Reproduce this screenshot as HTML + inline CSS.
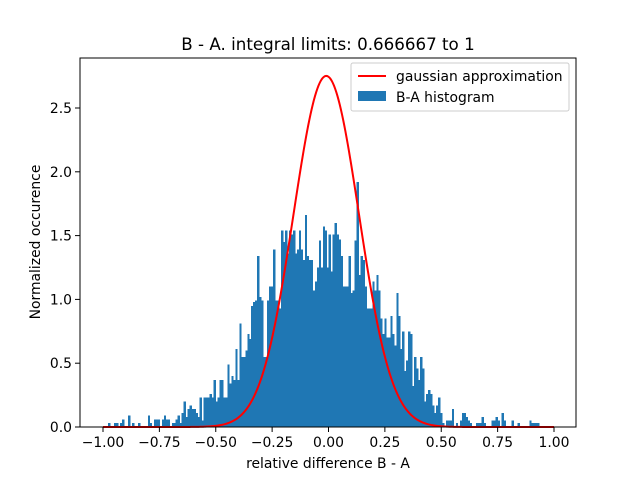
<!DOCTYPE html>
<html><head><meta charset="utf-8"><style>
body{margin:0;background:#fff}
svg text{font-family:"DejaVu Sans","Liberation Sans",sans-serif;fill:#000}
</style></head><body>
<svg id="chart" width="640" height="480" viewBox="0 0 640 480">
<rect width="640" height="480" fill="#fff"/>
<text x="328" y="50" font-size="16.7" text-anchor="middle">B - A. integral limits: 0.666667 to 1</text>
<g id="bars" shape-rendering="crispEdges"></g>
<path id="gauss" fill="none" stroke="#ff0000" stroke-width="2"/>
<rect x="80" y="58" width="496" height="369" fill="none" stroke="#000" stroke-width="1"/>
<g id="xticks"></g>
<g id="yticks"></g>
<text x="328" y="468" font-size="13.9" text-anchor="middle">relative difference B - A</text>
<text transform="translate(40,242) rotate(-90)" font-size="13.9" text-anchor="middle">Normalized occurence</text>
<g>
<rect x="351" y="63" width="218" height="48" rx="2" fill="#fff" fill-opacity="0.8" stroke="#ccc" stroke-width="1"/>
<line x1="358" y1="76" x2="386" y2="76" stroke="#ff0000" stroke-width="2"/>
<text x="396" y="81" font-size="13.9">gaussian approximation</text>
<rect x="358" y="91" width="28" height="10" fill="#1f77b4"/>
<text x="396" y="102" font-size="13.9">B-A histogram</text>
</g>
</svg>
<script>
const binStart = -0.977;
const binEnd = 0.935;
const counts = [0.03,0,0,0.03,0.03,0,0.03,0.06,0,0,0.09,0,0.03,0,0,0.03,0,0,0,0,0.09,0.03,0,0.06,0.06,0.06,0,0.06,0.09,0.06,0.06,0,0.03,0.03,0.06,0.09,0.03,0.11,0.2,0.08,0.14,0.17,0.14,0.14,0.11,0.08,0.23,0.05,0.23,0.23,0.23,0.26,0.23,0.37,0.2,0.23,0.37,0.37,0.23,0.23,0.49,0.34,0.40,0.37,0.61,0.37,0.81,0.55,0.55,0.6,0.73,0.69,0.95,0.98,
0.99,1.34,1.02,0.99,0.55,0.55,0.99,1.10,1.10,1.39,0.99,0.99,0.93,1.54,1.45,1.54,1.36,1.54,1.51,1.54,1.36,1.39,1.54,1.39,1.31,1.66,1.34,1.31,1.31,1.07,1.14,
1.25,1.46,1.25,1.57,1.54,1.25,1.51,1.22,1.51,1.6,1.51,1.47,1.34,1.10,1.10,1.10,1.34,1.05,1.07,1.46,1.92,1.19,1.34,1.31,1.10,0.93,0.93,0.93,1.14,1.07,1.19,1.07,0.85,0.73,0.85,0.70,0.70,0.87,
0.73,0.64,1.05,0.87,0.61,0.75,0.44,0.52,0.75,0.73,0.32,0.55,0.46,0.37,0.55,0.46,0.20,0.26,0.29,0.26,0.17,0.11,0.17,0.23,0.11,0.03,0,0.05,0.05,0.05,0.14,0,0.03,0,0.05,0.11,0.11,0.08,0.05,0.03,0,0,0.03,0.03,0.03,0.08,0.03,0,0,0,0.05,0.05,0.08,0.05,0,0.11,0.05,0,0,0,0.05,0,0,0.03,0,0,0,0,0,0.05,0.03,0.03,0.03,0.03];
const gaussMean = -0.01;
const gaussSigma = 0.145;
const xTicks = [-1.00,-0.75,-0.50,-0.25,0.00,0.25,0.50,0.75,1.00];
const xTickLabels = ["−1.00","−0.75","−0.50","−0.25","0.00","0.25","0.50","0.75","1.00"];
const yTicks = [0,0.5,1.0,1.5,2.0,2.5];
const yTickLabels = ["0.0","0.5","1.0","1.5","2.0","2.5"];

const NS="http://www.w3.org/2000/svg";
const xs = v => 328.5 + 225.5*v;
const ys = v => 427 - 127.6*v;
const bars=document.getElementById('bars');
const w=(binEnd-binStart)/counts.length;
counts.forEach((c,i)=>{
  if(c<=0) return;
  const r=document.createElementNS(NS,'rect');
  const x0=xs(binStart+i*w), x1=xs(binStart+(i+1)*w);
  r.setAttribute('x',x0);r.setAttribute('width',x1-x0+0.3);
  r.setAttribute('y',ys(c));r.setAttribute('height',ys(0)-ys(c));
  r.setAttribute('fill','#1f77b4');
  
  
  bars.appendChild(r);
});
let d='';
for(let i=0;i<=400;i++){
  const v=-1+2*i/400;
  const g=Math.exp(-0.5*Math.pow((v-gaussMean)/gaussSigma,2))/(Math.sqrt(2*Math.PI)*gaussSigma);
  d+=(i?'L':'M')+xs(v).toFixed(2)+','+ys(g).toFixed(2);
}
document.getElementById('gauss').setAttribute('d',d);
const xt=document.getElementById('xticks');
xTicks.forEach((t,i)=>{
  const l=document.createElementNS(NS,'line');
  l.setAttribute('x1',xs(t));l.setAttribute('x2',xs(t));l.setAttribute('y1',427);l.setAttribute('y2',432);
  l.setAttribute('stroke','#000');l.setAttribute('stroke-width','1');
  
  
  xt.appendChild(l);
  const tx=document.createElementNS(NS,'text');
  tx.setAttribute('x',xs(t));tx.setAttribute('y',447);tx.setAttribute('font-size','13.9');tx.setAttribute('text-anchor','middle');
  tx.textContent=xTickLabels[i];
  
  
  xt.appendChild(tx);
});
const yt=document.getElementById('yticks');
yTicks.forEach((t,i)=>{
  const l=document.createElementNS(NS,'line');
  l.setAttribute('x1',75);l.setAttribute('x2',80);l.setAttribute('y1',ys(t));l.setAttribute('y2',ys(t));
  l.setAttribute('stroke','#000');l.setAttribute('stroke-width','1');
  
  
  yt.appendChild(l);
  const tx=document.createElementNS(NS,'text');
  tx.setAttribute('x',72);tx.setAttribute('y',ys(t)+5);tx.setAttribute('font-size','13.9');tx.setAttribute('text-anchor','end');
  tx.textContent=yTickLabels[i];
  
  
  yt.appendChild(tx);
});
</script>
</body></html>
